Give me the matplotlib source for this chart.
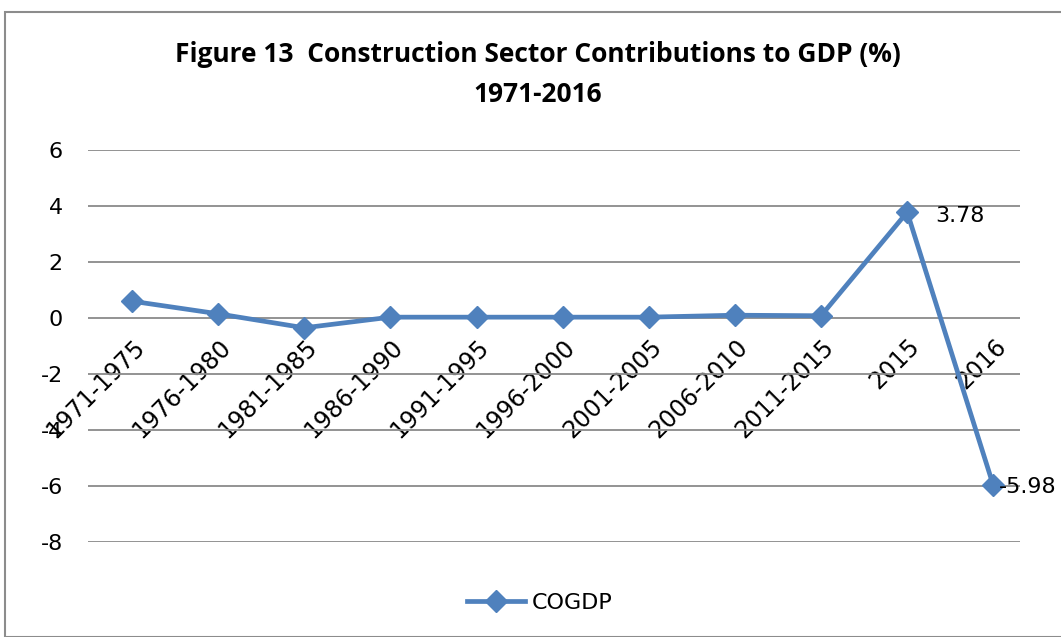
import matplotlib
matplotlib.use("Agg")
import matplotlib.pyplot as plt
from matplotlib.patches import Rectangle
from matplotlib.transforms import ScaledTranslation

categories = ["1971-1975", "1976-1980", "1981-1985", "1986-1990", "1991-1995",
              "1996-2000", "2001-2005", "2006-2010", "2011-2015", "2015", "2016"]
cogdp = [0.6, 0.15, -0.35, 0.03, 0.03, 0.03, 0.03, 0.1, 0.08, 3.78, -5.98]
yticks = [-8, -6, -4, -2, 0, 2, 4, 6]

plt.rcParams['font.family'] = ['DejaVu Sans']
fig = plt.figure(figsize=(10.61, 6.37), dpi=100)
fig.patches.append(Rectangle((5/1061, 0), 1.2, 1 - 12/637, transform=fig.transFigure,
                             fill=False, edgecolor='#8c8c8c', linewidth=1.5))

ax = fig.add_axes([88/1061, 1 - 542/637, (1020 - 88)/1061, (542 - 150)/637])
x = list(range(len(categories)))
color = '#4F81BD'
ax.plot(x, cogdp, color=color, linewidth=3.4, marker='D', markersize=11, label='COGDP', zorder=3)
ax.set_xlim(-0.511, 10.31)
ax.set_ylim(-8, 6)
ax.set_yticks(yticks)
ax.set_yticklabels([str(v) for v in yticks], fontsize=16)
ax.grid(axis='y', color='#8a8a8a', linewidth=1.3)
ax.set_axisbelow(True)
for s in ['top', 'right', 'left']:
    ax.spines[s].set_visible(False)
ax.spines['bottom'].set_position(('data', 0))
ax.spines['bottom'].set_visible(False)
ax.tick_params(axis='y', length=0, pad=18)
ax.tick_params(axis='x', length=0, pad=18)
ax.set_xticks(x)
ax.set_xticklabels(categories, rotation=45, ha='right', va='center',
                   rotation_mode='anchor', fontsize=17)
off = ScaledTranslation(9/100, 0, fig.dpi_scale_trans)
for lab in ax.get_xticklabels():
    lab.set_transform(lab.get_transform() + off)

ax.annotate(f"{cogdp[9]:.2f}", (x[9], cogdp[9]), xytext=(20, -3), textcoords='offset points',
            fontsize=16, va='center', ha='left')
ax.annotate(f"{cogdp[10]:.2f}", (x[10], cogdp[10]), xytext=(4, -1), textcoords='offset points',
            fontsize=16, va='center', ha='left', annotation_clip=False)

fig.text(538/1061, 1 - 55/637, "Figure 13  Construction Sector Contributions to GDP (%)",
         ha='center', va='center', fontsize=19, fontweight='bold', family='Open Sans')
fig.text(538/1061, 1 - 95/637, "1971-2016", ha='center', va='center', fontsize=19,
         fontweight='bold', family='Open Sans')

fig.legend(loc='center', bbox_to_anchor=(540/1061, 1 - 603/637), frameon=False, fontsize=16,
           handlelength=2.6, handletextpad=0.3)
fig.savefig("out.png", dpi=100)
